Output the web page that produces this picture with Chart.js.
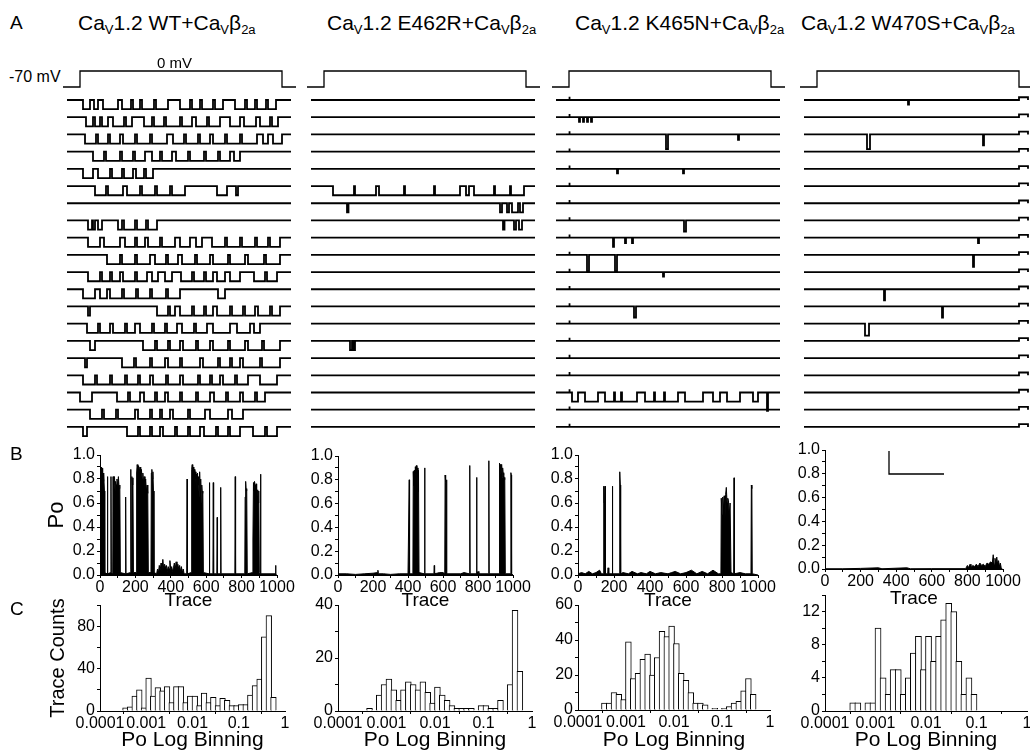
<!DOCTYPE html>
<html>
<head>
<meta charset="utf-8">
<script src="https://cdn.jsdelivr.net/npm/chart.js@4.4.0/dist/chart.umd.min.js"></script>
<style>
  body { margin: 0; background: #fff; overflow: hidden; }
  #fig { position: relative; width: 1030px; height: 752px; overflow: hidden; font-family: Arial, 'Liberation Sans', sans-serif; }
  #fig canvas { position: absolute; }
  .lbl { position: absolute; white-space: nowrap; line-height: 1; color: #000; }
  .lbl sub { font-size: 0.62em; vertical-align: -0.32em; line-height: 0; }
</style>
</head>
<body>
<div id="fig"></div>
<script>
// ---------- panel A: single-channel sweeps ----------
// open intervals in ms from the start of the 0 mV step; optional 3rd value = depth in unitary levels
const wtSweeps = [
  [[3,10],[14,18],[23,38],[42,51],[53,60],[62,74],[76,88],[100,110],[112,120],[122,133],[135,143],[155,165],[167,175],[177,186],[188,196]],
  [[6,13],[15,20],[22,28],[33,44],[46,52],[64,72],[74,84],[86,100],[102,112],[116,127],[129,140],[150,160],[164,176],[180,190],[192,198]],
  [[5,16],[18,28],[30,40],[43,55],[57,70],[72,87],[93,104],[106,118],[120,130],[133,145],[147,160],[162,177],[183,188],[193,202]],
  [[13,24],[26,40],[42,53],[55,65],[72,80],[82,92],[96,108],[110,124],[126,138],[140,150],[154,160]],
  [[3,13],[18,30],[32,42],[44,53],[56,64],[66,73]],
  [[15,26],[28,43],[47,60],[62,75],[77,90],[92,105],[137,147],[156,158]],
  [],
  [[8,12],[13,15],[18,22],[38,42],[44,55],[57,66],[68,77]],
  [[8,20],[24,40],[45,55],[57,65],[68,80],[82,95],[100,110],[116,122],[132,145],[147,160],[162,175],[177,188],[190,200]],
  [[27,40],[42,55],[57,70],[75,86],[88,98],[102,115],[117,130],[133,148],[150,165],[168,184],[186,200]],
  [[8,20],[22,30],[32,40],[43,55],[57,67],[72,78],[85,92],[101,112],[114,124],[126,133],[137,145],[150,160],[174,185],[187,197]],
  [[3,15],[20,27],[30,42],[44,56],[58,70],[72,86],[88,100],[138,145]],
  [[8,10],[77,88],[90,95],[100,112],[114,124],[126,133],[137,150],[152,163],[165,175],[178,190],[192,200]],
  [[7,18],[20,30],[33,45],[47,55],[60,72],[74,85],[87,97],[102,114],[116,127],[133,150],[157,170],[174,180]],
  [[10,15],[63,75],[77,88],[90,100],[103,116],[118,130],[133,148],[150,165],[168,182],[184,200]],
  [[5,7],[42,54],[56,70],[72,85],[88,100],[102,120],[123,138],[140,150],[152,160],[163,180],[182,200]],
  [[3,15],[17,30],[32,45],[47,58],[60,70],[73,86],[88,100],[103,118],[120,130],[132,140],[143,155],[157,168],[180,197]],
  [[0,12],[37,48],[50,60],[64,75],[77,85],[88,100],[102,116],[118,130],[134,146],[148,160],[163,175],[177,185]],
  [[10,22],[24,36],[38,55],[58,70],[72,80],[82,90],[93,108],[110,125],[130,148],[152,163]],
  [[3,7],[47,58],[60,70],[72,80],[83,95],[97,108],[110,120],[124,136],[138,148],[150,160],[173,185],[187,197]]
];
const e462rSweeps = [
  [], [], [], [], [],
  [[9,30],[31,52],[55,80],[81,110],[111,136],[142,145],[150,170],[171,186],[187,200]],
  [[23,24.5],[176,178],[183,185],[188,194],[196,199]],
  [[179,180.5],[190,192],[195,198]],
  [], [], [], [], [], [],
  [[26,28],[29.5,31]],
  [], [], [], [], []
];
const k465nSweeps = [
  [],
  [[10,11,0.5],[14,15,0.5],[18,19,0.5],[22,23,0.5]],
  [[97,99,1.6],[169,170,0.6]],
  [],
  [[48,49,0.5],[114,115,0.5]],
  [], [],
  [[115,117,1.2]],
  [[44,45,1],[56,57,0.6],[63,64,0.6]],
  [[18,20,1.8],[46,48,1.8]],
  [[94,95,0.5]],
  [],
  [[65,67,1.2]],
  [], [], [], [],
  [[3,9],[16,29],[36,45],[46,52],[53,68],[76,85],[86,95],[96,109],[116,134],[144,151],[158,171],[184,189],[198,199,2]],
  [], []
];
const w470sSweeps = [
  [[91,92,0.5]],
  [],
  [[50,53,1.6],[166,167,1.2]],
  [], [], [], [], [],
  [[161,162,0.6]],
  [[156,157,1.3]],
  [],
  [[67,68,1.2]],
  [[125,126,1.2]],
  [[48,52,1.3]],
  [], [], [], [], [], []
];
const k465nTransient = [[0, 0.8, -0.35]];
const w470sTransient = [[202, 211, -0.3]];

const protocolTimes = [-17, 0, 0, 202, 202, 216];
const protocolMv = [-70, -70, 0, 0, -70, -70];
const sweepSpan = [-13, 211];
const firstSweepPa = 1.74, sweepGapPa = 0.748, unitaryPa = 0.4;
const scaleBar = { t0: 72, y0: -18, ms: 55, pA: 1 };

// ---------- panel B: Po per trace ----------
const wtPo = [
  [0,0.85],[2,0.88],[4,0.82],[6,0.9],[9,0.86],[12,0.89],[15,0.8],[18,0.85],[20,0.78],[22,0.84],[25,0.7],[27,0.02],
  [40,0.01],[42,0.82],[44,0.01],[60,0.02],[62,0.82],[64,0.02],
  [72,0.01],[74,0.82],[76,0.05],[78,0.75],[82,0.82],[85,0.7],[88,0.78],[92,0.75],[96,0.8],[100,0.74],[104,0.82],[108,0.72],[112,0.75],[115,0.02],
  [143,0.01],[145,0.65],[147,0.01],
  [172,0.02],[174,0.88],[177,0.05],[180,0.82],[183,0.75],[186,0.81],[189,0.02],
  [205,0.02],[207,0.85],[210,0.92],[214,0.88],[218,0.91],[222,0.86],[226,0.9],[230,0.84],[234,0.88],[238,0.8],[242,0.85],[246,0.78],[250,0.82],[254,0.72],[258,0.8],[262,0.7],[266,0.75],[270,0.68],[273,0.02],
  [288,0.02],[290,0.85],[293,0.88],[296,0.8],[299,0.86],[302,0.7],[305,0.02],
  [320,0.01],[325,0.05],[330,0.02],[335,0.08],[340,0.04],[345,0.1],[350,0.03],[355,0.13],[360,0.05],[365,0.09],[370,0.06],[375,0.08],[380,0.03],[385,0.07],[390,0.05],[395,0.12],[400,0.04],[405,0.07],[410,0.03],[415,0.06],[420,0.1],[425,0.05],[430,0.11],[435,0.06],[440,0.09],[445,0.05],[450,0.08],[455,0.03],[460,0.07],[465,0.02],[470,0.05],[475,0.01],
  [490,0.01],[492,0.8],[494,0.01],
  [515,0.02],[518,0.88],[521,0.92],[524,0.8],[527,0.9],[530,0.85],[533,0.88],[536,0.72],[539,0.86],[542,0.8],[545,0.84],[548,0.7],[551,0.85],[554,0.75],[557,0.82],[560,0.65],[563,0.86],[566,0.7],[569,0.8],[572,0.6],[575,0.75],[578,0.68],[581,0.7],[584,0.02],
  [616,0.01],[618,0.77],[620,0.01],[638,0.01],[640,0.77],[642,0.01],[660,0.01],[662,0.48],[664,0.01],[680,0.01],[682,0.73],[684,0.01],
  [762,0.01],[764,0.82],[766,0.01],
  [818,0.01],[820,0.65],[823,0.78],[826,0.7],[829,0.72],[832,0.01],
  [862,0.02],[864,0.3],[867,0.77],[870,0.7],[873,0.78],[876,0.75],[879,0.72],[882,0.76],[885,0.65],[888,0.7],[891,0.71],[894,0.6],[897,0.7],[900,0.02],
  [905,0.01],[907,0.84],[909,0.01],[990,0.01],[992,0.08],[994,0],[1000,0]
];
const e462rPo = [
  [0,0.01],[50,0.01],[100,0.005],[150,0.01],[200,0.015],[225,0.02],[228,0.04],[231,0.01],[260,0.01],[300,0.005],[350,0.01],[400,0.01],
  [405,0.01],[407,0.8],[409,0.01],
  [428,0.01],[430,0.87],[433,0.75],[436,0.88],[439,0.8],[442,0.91],[445,0.85],[448,0.92],[451,0.82],[454,0.9],[457,0.7],[460,0.88],[463,0.02],
  [493,0.01],[495,0.9],[497,0.01],
  [520,0.01],[548,0.01],[550,0.08],[552,0.01],[580,0.02],[600,0.02],
  [610,0.01],[612,0.84],[615,0.78],[618,0.01],[620,0.8],[622,0.01],
  [700,0.01],[720,0.02],[750,0.01],[753,0.92],[755,0.01],
  [790,0.01],[792,0.82],[794,0.01],[800,0.03],[805,0.01],
  [860,0.01],[862,0.96],[864,0.01],
  [920,0.01],[923,0.94],[926,0.85],[929,0.93],[932,0.88],[935,0.93],[938,0.82],[941,0.9],[944,0.84],[947,0.86],[950,0.8],[953,0.82],[956,0.01],
  [986,0.01],[988,0.86],[990,0.84],[992,0.01],[1000,0]
];
const k465nPo = [
  [0,0.01],[20,0.02],[40,0.01],[60,0.03],[80,0.01],[100,0.02],[120,0.04],[130,0.01],
  [141,0.01],[143,0.74],[145,0.6],[148,0.62],[150,0.74],[152,0.01],
  [165,0.01],[167,0.06],[170,0.06],[172,0.01],
  [189,0.01],[191,0.74],[193,0.01],
  [229,0.01],[231,0.25],[233,0.86],[235,0.75],[237,0.01],
  [250,0.02],[280,0.01],[300,0.03],[330,0.01],[350,0.02],[380,0.01],[400,0.03],[430,0.01],[460,0.02],[500,0.01],[520,0.02],[540,0.03],[570,0.01],[600,0.02],[630,0.04],[660,0.01],[690,0.03],[720,0.01],[750,0.04],[780,0.01],
  [794,0.01],[796,0.64],[800,0.5],[804,0.65],[808,0.55],[812,0.66],[816,0.45],[820,0.67],[824,0.73],[828,0.6],[832,0.64],[836,0.62],[840,0.5],[845,0.6],[850,0.02],
  [865,0.01],[867,0.81],[869,0.01],
  [900,0.02],[930,0.01],[961,0.01],[963,0.75],[966,0.72],[968,0.01],[1000,0]
];
const w470sPo = [
  [0,0.002],[100,0.002],[200,0.005],[300,0.01],[320,0.002],[460,0.01],[480,0.002],[600,0.003],[790,0.003],
  [800,0.03],[805,0.01],[815,0.04],[820,0.01],[830,0.03],[840,0.02],[850,0.04],[860,0.02],[870,0.05],[880,0.03],[890,0.04],[900,0.02],[910,0.05],[920,0.04],[930,0.06],[940,0.05],[945,0.12],[950,0.04],[955,0.09],[960,0.05],[965,0.1],[970,0.04],[975,0.07],[980,0.02],[985,0.05],[990,0.01],[995,0]
];
const poTickValues = [0, 0.2, 0.4, 0.6, 0.8, 1.0];
const poTickLabels = ['0.0', '0.2', '0.4', '0.6', '0.8', '1.0'];
const traceTickValues = [0, 200, 400, 600, 800, 1000];
const traceTickLabels = ['0', '200', '400', '600', '800', '1000'];

// ---------- panel C: Po histograms, 10 log bins per decade from 0.0001 ----------
const wtCounts = [3,4,14,20,3,31,14,22,19,23,8,23,23,8,14,14,5,17,8,13,5,12,10,5,5,6,6,15,24,30,70,90,13];
const e462rCounts = [1,0,6,10,12,8,4,8,11,10,8,11,7,3,9,6,4,2,1,1,1,1,0,2,2,1,1,4,0,10,38,15];
const k465nCounts = [4,4,10,9,6,39,18,21,29,32,20,30,45,42,48,38,21,17,10,4,4,3,0,1,0,1,2,4,5,11,18,9];
const w470sCounts = [1,1,0,1,1,10,4,2,5,5,2,4,7,9,5,9,6,9,11,13,12,6,2,4,2];
const firstBins = [5, 6, 5, 5];
const logTickValues = [-4, -3, -2, -1, 0];
const logTickLabels = ['0.0001', '0.001', '0.01', '0.1', '1'];
const countMax = [100, 40, 60, 14];
const countStep = [20, 10, 10, 2];
const countTickValues = [[0, 40, 80], [0, 20, 40], [0, 20, 40, 60], [0, 4, 8, 12]];

const constructs = ['WT', 'E462R', 'K465N', 'W470S'];

// ---------- layout ----------
Chart.defaults.font.family = "Arial, 'Liberation Sans', sans-serif";
Chart.defaults.color = '#000';
const fig = document.getElementById('fig');

function makeCanvas(left, top, width, height) {
  const c = document.createElement('canvas');
  c.width = width; c.height = height;
  c.style.left = left + 'px'; c.style.top = top + 'px';
  c.style.width = width + 'px'; c.style.height = height + 'px';
  fig.appendChild(c);
  return c;
}

function text(html, x, baseline, size) {
  const d = document.createElement('div');
  d.className = 'lbl';
  d.style.left = x + 'px';
  d.style.top = (baseline - 0.8465 * size) + 'px';
  d.style.fontSize = size + 'px';
  d.innerHTML = html;
  fig.appendChild(d);
}

function tickText(values, labels, v) {
  const k = values.findIndex(u => Math.abs(u - v) < 1e-6);
  return k < 0 ? '' : labels[k];
}

const common = {
  responsive: false,
  animation: false,
  devicePixelRatio: 1,
  events: [],
  plugins: { legend: { display: false }, tooltip: { enabled: false } }
};

// ---------- A: sweeps ----------
const A_TOP = 60, A_H = 420, A_W = 233;
const pxPerPa = 23;
const pxPerMv = 16 / 70;
const mvMax = 11 / pxPerMv, mvMin = mvMax - A_H / pxPerMv;

const sweepCols = [
  { left: 63, sweeps: wtSweeps, extra: [] },
  { left: 307, sweeps: e462rSweeps, extra: [] },
  { left: 552, sweeps: k465nSweeps, extra: k465nTransient },
  { left: 800, sweeps: w470sSweeps, extra: w470sTransient, bar: true }
];

function sweepPoints(events, base) {
  const pts = [{ x: sweepSpan[0], y: base }];
  events.slice().sort((a, b) => a[0] - b[0]).forEach(ev => {
    const low = base - (ev.length > 2 ? ev[2] : 1) * unitaryPa;
    pts.push({ x: ev[0], y: base }, { x: ev[0], y: low }, { x: ev[1], y: low }, { x: ev[1], y: base });
  });
  pts.push({ x: sweepSpan[1], y: base });
  return pts;
}

sweepCols.forEach(col => {
  const line = { borderColor: '#000', pointRadius: 0, tension: 0, fill: false, clip: false };
  const datasets = [Object.assign({
    data: protocolTimes.map((t, i) => ({ x: t, y: protocolMv[i] })),
    yAxisID: 'mv', borderWidth: 1.3
  }, line)];
  col.sweeps.forEach((ev, i) => {
    const base = -(firstSweepPa + i * sweepGapPa);
    datasets.push(Object.assign({ data: sweepPoints(ev.concat(col.extra), base), yAxisID: 'y', borderWidth: 1.8 }, line));
  });
  if (col.bar) {
    datasets.push(Object.assign({
      data: [{ x: scaleBar.t0, y: scaleBar.y0 + scaleBar.pA }, { x: scaleBar.t0, y: scaleBar.y0 }, { x: scaleBar.t0 + scaleBar.ms, y: scaleBar.y0 }],
      yAxisID: 'y', borderWidth: 1.3
    }, line));
  }
  new Chart(makeCanvas(col.left, A_TOP, A_W, A_H), {
    type: 'line',
    data: { datasets },
    options: Object.assign({}, common, {
      layout: { padding: 0 },
      scales: {
        x: { type: 'linear', display: false, min: -17, max: 216 },
        y: { type: 'linear', display: false, min: -A_H / pxPerPa, max: 0 },
        mv: { type: 'linear', display: false, min: mvMin, max: mvMax }
      }
    })
  });
});

// ---------- B: Po vs trace ----------
const poSets = [wtPo, e462rPo, k465nPo, w470sPo];
const poAreas = [
  { l: 100, r: 277, t: 455, b: 575, bottom: 610, axisW: 54 },
  { l: 338, r: 513, t: 456, b: 575, bottom: 610, axisW: 40 },
  { l: 578, r: 758, t: 455, b: 575, bottom: 610, axisW: 40 },
  { l: 825, r: 1003, t: 450, b: 569, bottom: 608, axisW: 40 }
];

function axisStyle() {
  return {
    grid: { drawOnChartArea: false, tickLength: 3, color: '#000', lineWidth: 1 },
    border: { display: true, color: '#000', width: 1 }
  };
}

poAreas.forEach((a, i) => {
  const cl = a.l - a.axisW, ct = a.t - 14, cr = a.r + 28, cb = a.bottom;
  new Chart(makeCanvas(cl, ct, cr - cl, cb - ct), {
    type: 'line',
    data: { datasets: [{
      data: poSets[i].map(p => ({ x: p[0], y: p[1] })),
      borderColor: '#000', backgroundColor: '#000', borderWidth: 1,
      pointRadius: 0, fill: 'origin', tension: 0
    }] },
    options: Object.assign({}, common, {
      layout: { padding: { top: a.t - ct, right: cr - a.r, left: 0, bottom: 0 } },
      scales: {
        x: Object.assign(axisStyle(), {
          type: 'linear', min: 0, max: 1000,
          afterFit: s => { s.height = cb - a.b; },
          ticks: { stepSize: 100, autoSkip: false, maxRotation: 0, padding: 0, font: { size: 16 },
                   callback: v => tickText(traceTickValues, traceTickLabels, v) },
          title: { display: true, text: 'Trace', font: { size: 19, lineHeight: 1 }, padding: 0 }
        }),
        y: Object.assign(axisStyle(), {
          type: 'linear', min: 0, max: 1,
          afterFit: s => { s.width = a.axisW; },
          ticks: { stepSize: 0.1, autoSkip: false, padding: 2, font: { size: 16 },
                   callback: v => tickText(poTickValues, poTickLabels, v) },
          title: { display: i === 0, text: 'Po', font: { size: 22, lineHeight: 1 }, padding: 0 }
        })
      }
    })
  });
});

// ---------- C: log-binned Po histograms ----------
const countSets = [wtCounts, e462rCounts, k465nCounts, w470sCounts];
const histAreas = [
  { l: 100, r: 285, t: 605, b: 711, axisW: 52 },
  { l: 338, r: 532, t: 605, b: 711, axisW: 40 },
  { l: 578, r: 770, t: 605, b: 710, axisW: 40 },
  { l: 825, r: 1027, t: 595, b: 711, axisW: 40 }
];

histAreas.forEach((a, i) => {
  const cl = a.l - a.axisW, ct = a.t - 14, cr = a.r + 30, cb = 751;
  const binPx = (a.r - a.l) / 40;
  new Chart(makeCanvas(cl, ct, cr - cl, cb - ct), {
    type: 'bar',
    data: { datasets: [{
      data: countSets[i].map((c, k) => ({ x: -4 + (firstBins[i] + k + 0.5) * 0.1, y: c })),
      backgroundColor: '#fff', borderColor: '#000', borderWidth: 1, borderSkipped: 'start',
      barThickness: binPx + 1
    }] },
    options: Object.assign({}, common, {
      layout: { padding: { top: a.t - ct, right: cr - a.r, left: 0, bottom: 0 } },
      scales: {
        x: Object.assign(axisStyle(), {
          type: 'linear', min: -4, max: 0, offset: false,
          afterFit: s => { s.height = cb - a.b; },
          ticks: { stepSize: 1, autoSkip: false, maxRotation: 0, padding: 0, font: { size: 16 },
                   callback: v => tickText(logTickValues, logTickLabels, v) },
          title: { display: true, text: 'Po Log Binning', font: { size: 21, lineHeight: 1 }, padding: 0 }
        }),
        y: Object.assign(axisStyle(), {
          type: 'linear', min: 0, max: countMax[i],
          afterFit: s => { s.width = a.axisW; },
          ticks: { stepSize: countStep[i], autoSkip: false, padding: 2, font: { size: 16 },
                   callback: v => tickText(countTickValues[i], countTickValues[i].map(String), v) },
          title: { display: i === 0, text: 'Trace Counts', font: { size: 20, lineHeight: 1 }, padding: 0 }
        })
      }
    })
  });
});

// ---------- text ----------
text('A', 10, 29, 19);
text('B', 10, 460, 19);
text('C', 10, 615, 19);
const titleLefts = [78, 327, 575, 801];
constructs.forEach((c, i) => {
  text('Ca<sub>V</sub>1.2 ' + c + '+Ca<sub>V</sub>&beta;<sub>2a</sub>', titleLefts[i], 30, 21);
});
text('-70 mV', 9, 83, 16);
text('0 mV', 157, 68, 15);
</script>
</body>
</html>
